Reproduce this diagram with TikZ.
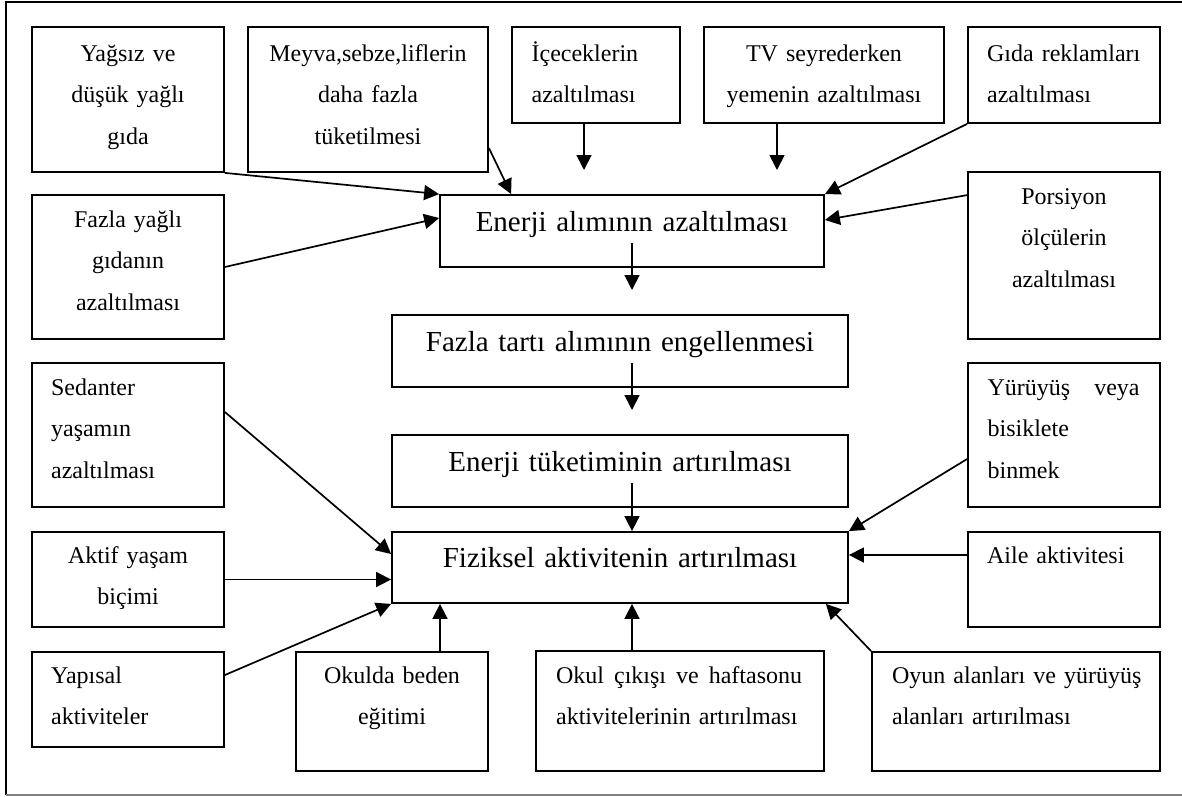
\documentclass[tikz,border=0pt]{standalone}
\usepackage{fontspec}
\setmainfont{Liberation Serif}
\usetikzlibrary{arrows.meta,calc}
\tikzset{
  box/.style={draw, line width=1.8pt, inner sep=0pt, rectangle},
  small/.style={font=\fontsize{24}{41.5}\selectfont, inner sep=0pt, outer sep=0pt},
  ctxt/.style={small, anchor=base, align=center},
  ltxt/.style={small, anchor=base west, align=left, text width=270pt},
  big/.style={font=\fontsize{29}{34}\selectfont, inner sep=0pt, anchor=base, align=center},
  arr/.style={line width=1.7pt, -{Triangle[length=15pt,width=15pt]}},
}
\begin{document}
\begin{tikzpicture}[x=1pt,y=-1pt]
\useasboundingbox (0,0) rectangle (1182,796);
% outer frame
\draw[line width=2.2pt] (1195,2) -- (6,2) -- (6,795);
\draw[gray, line width=1.2pt] (6,795) -- (1195,795);

% boxes
\node[box, minimum width=192pt, minimum height=145pt] (yagsiz) at (128,99.5) {};
\node[box, minimum width=240pt, minimum height=145pt] (meyva) at (368,99.5) {};
\node[box, minimum width=168pt, minimum height=96pt] (icecek) at (596,75) {};
\node[box, minimum width=240pt, minimum height=96pt] (tv) at (824,75) {};
\node[box, minimum width=192pt, minimum height=96pt] (gida) at (1064,75) {};
\node[box, minimum width=192pt, minimum height=144pt] (fazlayag) at (128,267) {};
\node[box, minimum width=192pt, minimum height=167pt] (porsiyon) at (1064,255.5) {};
\node[box, minimum width=384pt, minimum height=72pt] (enerjial) at (632,231) {};
\node[box, minimum width=456pt, minimum height=72pt] (tarti) at (620,351) {};
\node[box, minimum width=456pt, minimum height=72pt] (tuketim) at (620,471) {};
\node[box, minimum width=456pt, minimum height=71pt] (fiziksel) at (620,567.5) {};
\node[box, minimum width=192pt, minimum height=144pt] (sedanter) at (128,435) {};
\node[box, minimum width=192pt, minimum height=144pt] (yuruyus) at (1064,435) {};
\node[box, minimum width=192pt, minimum height=95pt] (aktif) at (128,579.5) {};
\node[box, minimum width=192pt, minimum height=95pt] (aile) at (1064,579.5) {};
\node[box, minimum width=192pt, minimum height=95pt] (yapisal) at (128,699.5) {};
\node[box, minimum width=192pt, minimum height=119pt] (okulda) at (392,711.5) {};
\node[box, minimum width=288pt, minimum height=120pt] (okulcikis) at (680,711) {};
\node[box, minimum width=288pt, minimum height=119pt] (oyun) at (1016,711.5) {};

% texts
\node[ctxt, text width=192pt] (tyagsiz) at ([yshift=-35pt]yagsiz.north) {Yağsız ve\\düşük yağlı\\gıda};
\node[ctxt, text width=240pt] (tmeyva) at ([yshift=-35pt]meyva.north) {Meyva,sebze,liflerin\\daha fazla\\tüketilmesi};
\node[ltxt] (ticecek) at ([xshift=20.5pt,yshift=-35pt]icecek.north west) {İçeceklerin\\azaltılması};
\node[ctxt, text width=240pt] (ttv) at ([yshift=-35pt]tv.north) {TV seyrederken\\yemenin azaltılması};
\node[ltxt] (tgida) at ([xshift=20pt,yshift=-35pt]gida.north west) {Gıda reklamları\\azaltılması};
\node[ctxt, text width=192pt] (tfazlayag) at ([yshift=-33pt]fazlayag.north) {Fazla yağlı\\gıdanın\\azaltılması};
\node[ctxt, text width=192pt] (tporsiyon) at ([yshift=-33pt]porsiyon.north) {Porsiyon\\ölçülerin\\azaltılması};
\node[big, text width=384pt] (tenerjial) at ([yshift=-37pt]enerjial.north) {Enerji alımının azaltılması};
\node[big, text width=456pt] (ttarti) at ([yshift=-37pt]tarti.north) {Fazla tartı alımının engellenmesi};
\node[big, text width=456pt] (ttuketim) at ([yshift=-37pt]tuketim.north) {Enerji tüketiminin artırılması};
\node[big, text width=456pt] (tfiziksel) at ([yshift=-36pt]fiziksel.north) {Fiziksel aktivitenin artırılması};
\node[ltxt] (tsedanter) at ([xshift=20pt,yshift=-33pt]sedanter.north west) {Sedanter\\yaşamın\\azaltılması};
\node[ltxt] (tyuruyus) at ([xshift=20.5pt,yshift=-33pt]yuruyus.north west) {\makebox[152pt][l]{Yürüyüş\hfill veya}\\bisiklete\\binmek};
\node[ctxt, text width=192pt] (taktif) at ([yshift=-32pt]aktif.north) {Aktif yaşam\\biçimi};
\node[ltxt] (taile) at ([xshift=20pt,yshift=-32pt]aile.north west) {Aile aktivitesi};
\node[ltxt] (tyapisal) at ([xshift=20pt,yshift=-32pt]yapisal.north west) {Yapısal\\aktiviteler};
\node[ctxt, text width=192pt] (tokulda) at ([yshift=-32pt]okulda.north) {Okulda beden\\eğitimi};
\node[ltxt] (tokulcikis) at ([xshift=21pt,yshift=-33pt]okulcikis.north west) {\makebox[246pt][l]{Okul\hfill çıkışı\hfill ve\hfill haftasonu}\\aktivitelerinin artırılması};
\node[ltxt] (toyun) at ([xshift=21pt,yshift=-32pt]oyun.north west) {Oyun alanları ve yürüyüş\\alanları artırılması};

% free arrow ends and connector start points
\coordinate (icecekend) at (584,170);
\coordinate (tvend) at (777,170);
\coordinate (enerjialend) at (632,290);
\coordinate (tartiend) at (632,410);
\coordinate (ailestart) at ([yshift=24.5pt]aile.west);

% connectors into Enerji alımının azaltılması
\draw[arr] (yagsiz.south east) -- (enerjial.north west);
\draw[arr] (fazlayag.east) -- ([yshift=13pt]enerjial.west);
\draw[arr] ([yshift=-48.5pt]meyva.east) -- ([xshift=72pt]enerjial.north west);
\draw[arr] ([xshift=-12pt]icecek.south) -- (icecekend);
\draw[arr] ([xshift=-47pt]tv.south) -- (tvend);
\draw[arr] (gida.south west) -- (enerjial.north east);
\draw[arr] ([yshift=-24pt]porsiyon.north west) -- ([yshift=11pt]enerjial.east);

% main chain
\draw[arr] ([yshift=-12pt]enerjial.center) -- (enerjialend);
\draw[arr] ([xshift=12pt,yshift=-12pt]tarti.center) -- (tartiend);
\draw[arr] ([xshift=12pt,yshift=-12pt]tuketim.center) -- ([xshift=12pt]fiziksel.north);

% connectors into Fiziksel aktivitenin artırılması
\draw[arr] ([yshift=23pt]sedanter.east) -- ([yshift=13.5pt]fiziksel.west);
\draw[arr] (aktif.east) -- (fiziksel.west |- aktif.east);
\draw[arr] ([yshift=24.5pt]yapisal.east) -- (fiziksel.south west);
\draw[arr] ([xshift=48pt]okulda.north) -- ([xshift=-180pt]fiziksel.south);
\draw[arr] ([xshift=-48pt]okulcikis.north) -- ([xshift=12pt]fiziksel.south);
\draw[arr] (oyun.north west) -- ([xshift=-23pt]fiziksel.south east);
\draw[arr] (ailestart) -- (fiziksel.east |- ailestart);
\draw[arr] ([yshift=-24pt]yuruyus.west) -- (fiziksel.north east);
\end{tikzpicture}
\end{document}
